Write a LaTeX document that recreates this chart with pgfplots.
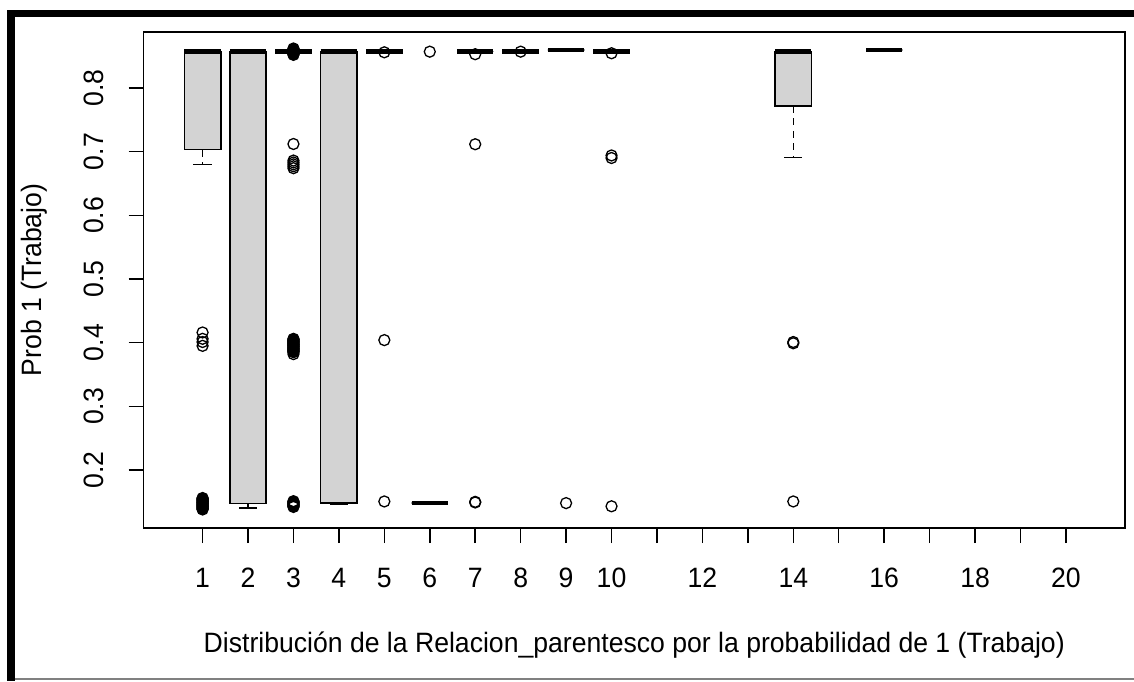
\documentclass[border=0pt]{standalone}
\usepackage{fontspec}
\setmainfont[FakeStretch=0.95]{Liberation Sans}
\usepackage{pgfplots}
\pgfplotsset{compat=1.18}
\usepgfplotslibrary{statistics}
\definecolor{boxgray}{HTML}{D3D3D3}
\pgfplotsset{
  /pgfplots/boxplot/draw/lower whisker/.code={%
    \draw[/pgfplots/boxplot/every whisker/.try, dash pattern=on 7pt off 5.5pt]
      (boxplot box cs:\pgfplotsboxplotvalue{lower quartile},0.5)
      -- (boxplot box cs:\pgfplotsboxplotvalue{lower whisker},0.5);
    \draw[/pgfplots/boxplot/every whisker/.try]
      (boxplot whisker cs:\pgfplotsboxplotvalue{lower whisker},0)
      -- (boxplot whisker cs:\pgfplotsboxplotvalue{lower whisker},1);
  },
  /pgfplots/boxplot/draw/upper whisker/.code={%
    \draw[/pgfplots/boxplot/every whisker/.try, dash pattern=on 7pt off 5.5pt]
      (boxplot box cs:\pgfplotsboxplotvalue{upper quartile},0.5)
      -- (boxplot box cs:\pgfplotsboxplotvalue{upper whisker},0.5);
    \draw[/pgfplots/boxplot/every whisker/.try]
      (boxplot whisker cs:\pgfplotsboxplotvalue{upper whisker},0)
      -- (boxplot whisker cs:\pgfplotsboxplotvalue{upper whisker},1);
  },
  rbox/.style={
    black, solid, line width=1.5pt,
    mark=o, mark size=5.5pt,
    mark options={line width=1.3pt, solid, fill=none},
    boxplot/draw direction=y,
    boxplot/box extend=0.8,
    boxplot/whisker extend=0.4,
    boxplot/every box/.style={draw=black, fill=boxgray, line width=1.5pt},
    boxplot/every median/.style={draw=black, line width=4.5pt},
    boxplot/every whisker/.style={draw=black, line width=1.5pt},
  },
}
\begin{document}
\begin{tikzpicture}
\useasboundingbox (0,0) rectangle (1134pt,681pt);
\fill[white] (0,0) rectangle (1134pt,681pt);
\begin{axis}[
  at={(143.5pt,153pt)}, anchor=south west,
  scale only axis, width=981.5pt, height=496pt,
  xmin=-0.3, xmax=21.3, ymin=0.1089, ymax=0.8879,
  axis line style={line width=1.5pt, black},
  xtick={1,2,3,4,5,6,7,8,9,10,11,12,13,14,15,16,17,18,19,20},
  xticklabels={1,2,3,4,5,6,7,8,9,10,,12,,14,,16,,18,,20},
  ytick={0.2,0.3,0.4,0.5,0.6,0.7,0.8},
  yticklabels={0.2,0.3,0.4,0.5,0.6,0.7,0.8},
  xtick pos=bottom, ytick pos=left,
  tick align=outside, major tick length=15pt,
  tick style={line width=1.5pt, black},
  xticklabel style={font=\fontsize{28}{33}\selectfont, anchor=north, inner sep=0pt, yshift=-25pt},
  yticklabel style={font=\fontsize{28}{33}\selectfont, xshift=-25pt, rotate=90, anchor=south, inner sep=0pt},
  xlabel={Distribución de la Relacion\_parentesco por la probabilidad de 1 (Trabajo)},
  ylabel={Prob 1 (Trabajo)},
  xlabel style={font=\fontsize{28}{33}\selectfont, at={(axis description cs:0.5,-0.2514)}, anchor=base, inner sep=0pt},
  ylabel style={font=\fontsize{28}{33}\selectfont, at={(axis description cs:-0.1044,0.5)}, anchor=base, inner sep=0pt},
]
% group 1
\addplot[rbox, boxplot prepared={draw position=1, lower whisker=0.680, lower quartile=0.703, median=0.857, upper quartile=0.857, upper whisker=0.857}]
  coordinates {(1,0.416)(1,0.406)(1,0.401)(1,0.395)
  (1,0.156)(1,0.155)(1,0.154)(1,0.153)(1,0.152)(1,0.151)(1,0.150)(1,0.149)(1,0.148)(1,0.147)
  (1,0.146)(1,0.145)(1,0.144)(1,0.143)(1,0.142)(1,0.141)(1,0.140)(1,0.139)(1,0.138)};
% group 2
\addplot[rbox, boxplot prepared={draw position=2, lower whisker=0.1405, lower quartile=0.147, median=0.857, upper quartile=0.857, upper whisker=0.857}]
  coordinates {};
% group 3
\addplot[rbox, boxplot prepared={draw position=3, lower whisker=0.857, lower quartile=0.857, median=0.857, upper quartile=0.857, upper whisker=0.857}]
  coordinates {(3,0.852)(3,0.853)(3,0.854)(3,0.855)(3,0.856)(3,0.857)(3,0.858)(3,0.859)(3,0.860)(3,0.861)(3,0.862)
  (3,0.712)(3,0.686)(3,0.683)(3,0.680)(3,0.677)(3,0.674)
  (3,0.406)(3,0.405)(3,0.404)(3,0.403)(3,0.402)(3,0.401)(3,0.400)(3,0.399)(3,0.398)(3,0.397)(3,0.396)
  (3,0.395)(3,0.394)(3,0.393)(3,0.392)(3,0.391)(3,0.390)(3,0.389)(3,0.388)(3,0.387)(3,0.386)(3,0.385)(3,0.382)
  (3,0.151)(3,0.150)(3,0.149)(3,0.148)(3,0.147)(3,0.146)(3,0.145)(3,0.144)(3,0.143)(3,0.142)};
% group 4
\addplot[rbox, boxplot prepared={draw position=4, lower whisker=0.1455, lower quartile=0.148, median=0.857, upper quartile=0.857, upper whisker=0.857}]
  coordinates {};
% group 5
\addplot[rbox, boxplot prepared={draw position=5, lower whisker=0.857, lower quartile=0.857, median=0.857, upper quartile=0.857, upper whisker=0.857}]
  coordinates {(5,0.856)(5,0.404)(5,0.1506)};
% group 6
\addplot[rbox, boxplot prepared={draw position=6, lower whisker=0.1465, lower quartile=0.148, median=0.148, upper quartile=0.148, upper whisker=0.148}]
  coordinates {(6,0.857)};
% group 7
\addplot[rbox, boxplot prepared={draw position=7, lower whisker=0.857, lower quartile=0.857, median=0.857, upper quartile=0.857, upper whisker=0.857}]
  coordinates {(7,0.853)(7,0.7116)(7,0.150)(7,0.149)};
% group 8
\addplot[rbox, boxplot prepared={draw position=8, lower whisker=0.857, lower quartile=0.857, median=0.857, upper quartile=0.857, upper whisker=0.857}]
  coordinates {(8,0.857)};
% group 9
\addplot[rbox, boxplot prepared={draw position=9, lower whisker=0.8597, lower quartile=0.8597, median=0.8597, upper quartile=0.8597, upper whisker=0.8597}]
  coordinates {(9,0.148)};
% group 10
\addplot[rbox, boxplot prepared={draw position=10, lower whisker=0.857, lower quartile=0.857, median=0.857, upper quartile=0.857, upper whisker=0.857}]
  coordinates {(10,0.8545)(10,0.694)(10,0.690)(10,0.143)};
% group 14
\addplot[rbox, boxplot prepared={draw position=14, lower whisker=0.6906, lower quartile=0.772, median=0.857, upper quartile=0.857, upper whisker=0.857}]
  coordinates {(14,0.401)(14,0.399)(14,0.1506)};
% group 16
\addplot[rbox, boxplot prepared={draw position=16, lower whisker=0.8597, lower quartile=0.8597, median=0.8597, upper quartile=0.8597, upper whisker=0.8597}]
  coordinates {};
\end{axis}
\fill[black] (6.5pt,0pt) rectangle (15pt,671pt);
\fill[black] (6.5pt,664pt) rectangle (1134pt,671pt);
\draw[gray, line width=1.5pt] (15pt,2pt) -- (1134pt,2pt);
\end{tikzpicture}
\end{document}
